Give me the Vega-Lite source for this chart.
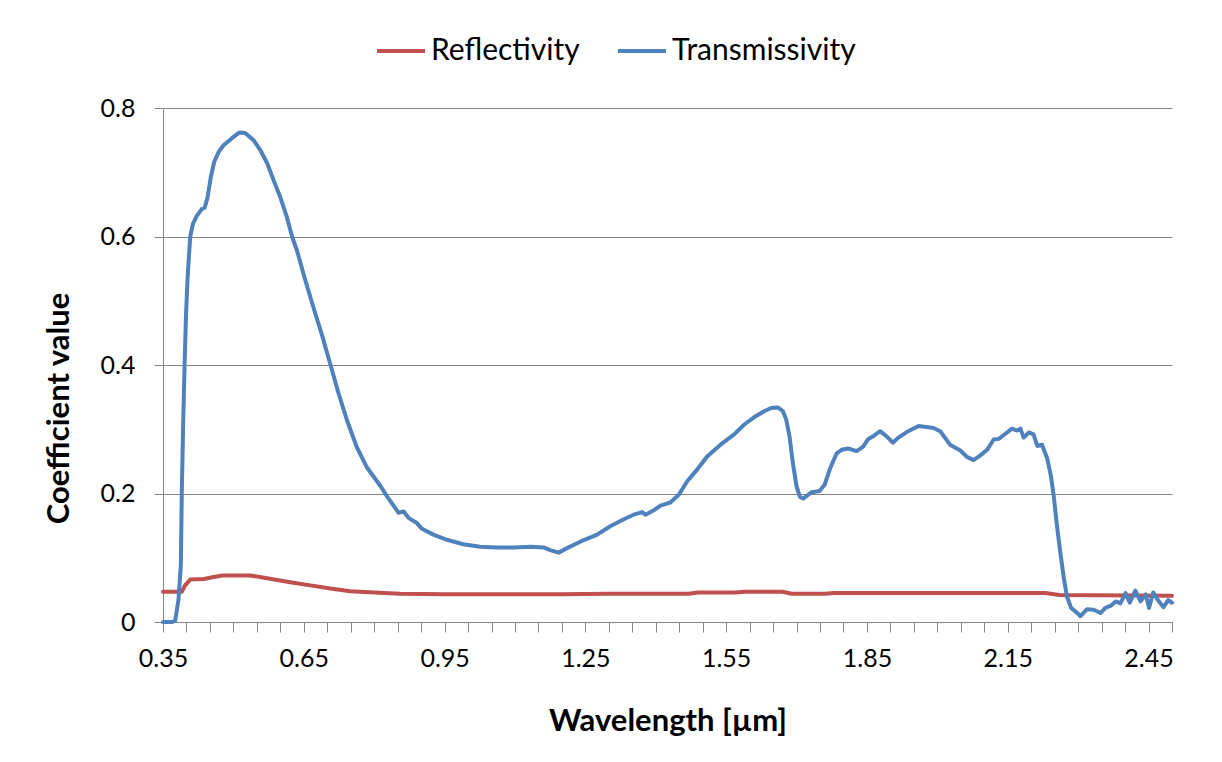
{
  "$schema": "https://vega.github.io/schema/vega-lite/v6.json",
  "autosize": "none",
  "width": 1009,
  "height": 514,
  "padding": {"left": 163, "top": 108, "right": 50, "bottom": 140},
  "background": "white",
  "config": {
    "view": {"stroke": null},
    "font": "Lato",
    "axis": {"labelFont": "Lato", "titleFont": "Lato", "labelColor": "#000000", "titleColor": "#000000", "domainColor": "#868686", "tickColor": "#868686", "gridColor": "#868686", "gridWidth": 1, "domainWidth": 1, "tickWidth": 1}
  },
  "data": {
    "values": [
      {"w": 0.35, "v": 0.047, "s": "Reflectivity"},
      {"w": 0.39, "v": 0.047, "s": "Reflectivity"},
      {"w": 0.397, "v": 0.057, "s": "Reflectivity"},
      {"w": 0.408, "v": 0.066, "s": "Reflectivity"},
      {"w": 0.437, "v": 0.067, "s": "Reflectivity"},
      {"w": 0.458, "v": 0.070, "s": "Reflectivity"},
      {"w": 0.476, "v": 0.0725, "s": "Reflectivity"},
      {"w": 0.536, "v": 0.0725, "s": "Reflectivity"},
      {"w": 0.572, "v": 0.068, "s": "Reflectivity"},
      {"w": 0.621, "v": 0.062, "s": "Reflectivity"},
      {"w": 0.664, "v": 0.057, "s": "Reflectivity"},
      {"w": 0.707, "v": 0.052, "s": "Reflectivity"},
      {"w": 0.749, "v": 0.048, "s": "Reflectivity"},
      {"w": 0.80, "v": 0.046, "s": "Reflectivity"},
      {"w": 0.856, "v": 0.044, "s": "Reflectivity"},
      {"w": 0.95, "v": 0.043, "s": "Reflectivity"},
      {"w": 1.2, "v": 0.043, "s": "Reflectivity"},
      {"w": 1.3, "v": 0.044, "s": "Reflectivity"},
      {"w": 1.47, "v": 0.044, "s": "Reflectivity"},
      {"w": 1.49, "v": 0.046, "s": "Reflectivity"},
      {"w": 1.57, "v": 0.046, "s": "Reflectivity"},
      {"w": 1.59, "v": 0.047, "s": "Reflectivity"},
      {"w": 1.67, "v": 0.047, "s": "Reflectivity"},
      {"w": 1.69, "v": 0.044, "s": "Reflectivity"},
      {"w": 1.76, "v": 0.044, "s": "Reflectivity"},
      {"w": 1.78, "v": 0.045, "s": "Reflectivity"},
      {"w": 2.0, "v": 0.045, "s": "Reflectivity"},
      {"w": 2.23, "v": 0.045, "s": "Reflectivity"},
      {"w": 2.26, "v": 0.042, "s": "Reflectivity"},
      {"w": 2.5, "v": 0.041, "s": "Reflectivity"},
      {"w": 0.350, "v": 0.000, "s": "Transmissivity"},
      {"w": 0.370, "v": 0.000, "s": "Transmissivity"},
      {"w": 0.376, "v": 0.002, "s": "Transmissivity"},
      {"w": 0.383, "v": 0.035, "s": "Transmissivity"},
      {"w": 0.388, "v": 0.088, "s": "Transmissivity"},
      {"w": 0.390, "v": 0.200, "s": "Transmissivity"},
      {"w": 0.393, "v": 0.310, "s": "Transmissivity"},
      {"w": 0.396, "v": 0.400, "s": "Transmissivity"},
      {"w": 0.399, "v": 0.477, "s": "Transmissivity"},
      {"w": 0.402, "v": 0.530, "s": "Transmissivity"},
      {"w": 0.405, "v": 0.566, "s": "Transmissivity"},
      {"w": 0.408, "v": 0.600, "s": "Transmissivity"},
      {"w": 0.414, "v": 0.620, "s": "Transmissivity"},
      {"w": 0.422, "v": 0.632, "s": "Transmissivity"},
      {"w": 0.433, "v": 0.643, "s": "Transmissivity"},
      {"w": 0.439, "v": 0.645, "s": "Transmissivity"},
      {"w": 0.445, "v": 0.661, "s": "Transmissivity"},
      {"w": 0.452, "v": 0.693, "s": "Transmissivity"},
      {"w": 0.459, "v": 0.716, "s": "Transmissivity"},
      {"w": 0.469, "v": 0.732, "s": "Transmissivity"},
      {"w": 0.479, "v": 0.742, "s": "Transmissivity"},
      {"w": 0.497, "v": 0.753, "s": "Transmissivity"},
      {"w": 0.513, "v": 0.762, "s": "Transmissivity"},
      {"w": 0.525, "v": 0.761, "s": "Transmissivity"},
      {"w": 0.543, "v": 0.750, "s": "Transmissivity"},
      {"w": 0.557, "v": 0.735, "s": "Transmissivity"},
      {"w": 0.572, "v": 0.714, "s": "Transmissivity"},
      {"w": 0.586, "v": 0.687, "s": "Transmissivity"},
      {"w": 0.600, "v": 0.661, "s": "Transmissivity"},
      {"w": 0.614, "v": 0.630, "s": "Transmissivity"},
      {"w": 0.625, "v": 0.600, "s": "Transmissivity"},
      {"w": 0.636, "v": 0.577, "s": "Transmissivity"},
      {"w": 0.650, "v": 0.540, "s": "Transmissivity"},
      {"w": 0.667, "v": 0.498, "s": "Transmissivity"},
      {"w": 0.689, "v": 0.446, "s": "Transmissivity"},
      {"w": 0.707, "v": 0.400, "s": "Transmissivity"},
      {"w": 0.724, "v": 0.356, "s": "Transmissivity"},
      {"w": 0.742, "v": 0.314, "s": "Transmissivity"},
      {"w": 0.763, "v": 0.272, "s": "Transmissivity"},
      {"w": 0.785, "v": 0.240, "s": "Transmissivity"},
      {"w": 0.813, "v": 0.212, "s": "Transmissivity"},
      {"w": 0.827, "v": 0.196, "s": "Transmissivity"},
      {"w": 0.852, "v": 0.170, "s": "Transmissivity"},
      {"w": 0.863, "v": 0.172, "s": "Transmissivity"},
      {"w": 0.873, "v": 0.162, "s": "Transmissivity"},
      {"w": 0.891, "v": 0.154, "s": "Transmissivity"},
      {"w": 0.902, "v": 0.145, "s": "Transmissivity"},
      {"w": 0.926, "v": 0.136, "s": "Transmissivity"},
      {"w": 0.955, "v": 0.128, "s": "Transmissivity"},
      {"w": 0.990, "v": 0.121, "s": "Transmissivity"},
      {"w": 1.026, "v": 0.117, "s": "Transmissivity"},
      {"w": 1.062, "v": 0.116, "s": "Transmissivity"},
      {"w": 1.097, "v": 0.116, "s": "Transmissivity"},
      {"w": 1.133, "v": 0.117, "s": "Transmissivity"},
      {"w": 1.161, "v": 0.116, "s": "Transmissivity"},
      {"w": 1.175, "v": 0.112, "s": "Transmissivity"},
      {"w": 1.193, "v": 0.108, "s": "Transmissivity"},
      {"w": 1.211, "v": 0.115, "s": "Transmissivity"},
      {"w": 1.239, "v": 0.125, "s": "Transmissivity"},
      {"w": 1.275, "v": 0.136, "s": "Transmissivity"},
      {"w": 1.303, "v": 0.149, "s": "Transmissivity"},
      {"w": 1.332, "v": 0.160, "s": "Transmissivity"},
      {"w": 1.353, "v": 0.167, "s": "Transmissivity"},
      {"w": 1.371, "v": 0.171, "s": "Transmissivity"},
      {"w": 1.378, "v": 0.167, "s": "Transmissivity"},
      {"w": 1.396, "v": 0.174, "s": "Transmissivity"},
      {"w": 1.410, "v": 0.181, "s": "Transmissivity"},
      {"w": 1.431, "v": 0.186, "s": "Transmissivity"},
      {"w": 1.449, "v": 0.198, "s": "Transmissivity"},
      {"w": 1.467, "v": 0.219, "s": "Transmissivity"},
      {"w": 1.489, "v": 0.238, "s": "Transmissivity"},
      {"w": 1.510, "v": 0.258, "s": "Transmissivity"},
      {"w": 1.538, "v": 0.276, "s": "Transmissivity"},
      {"w": 1.567, "v": 0.292, "s": "Transmissivity"},
      {"w": 1.588, "v": 0.307, "s": "Transmissivity"},
      {"w": 1.610, "v": 0.319, "s": "Transmissivity"},
      {"w": 1.631, "v": 0.328, "s": "Transmissivity"},
      {"w": 1.646, "v": 0.333, "s": "Transmissivity"},
      {"w": 1.660, "v": 0.334, "s": "Transmissivity"},
      {"w": 1.671, "v": 0.328, "s": "Transmissivity"},
      {"w": 1.678, "v": 0.315, "s": "Transmissivity"},
      {"w": 1.685, "v": 0.289, "s": "Transmissivity"},
      {"w": 1.692, "v": 0.248, "s": "Transmissivity"},
      {"w": 1.700, "v": 0.211, "s": "Transmissivity"},
      {"w": 1.707, "v": 0.195, "s": "Transmissivity"},
      {"w": 1.714, "v": 0.192, "s": "Transmissivity"},
      {"w": 1.732, "v": 0.202, "s": "Transmissivity"},
      {"w": 1.749, "v": 0.204, "s": "Transmissivity"},
      {"w": 1.760, "v": 0.214, "s": "Transmissivity"},
      {"w": 1.771, "v": 0.238, "s": "Transmissivity"},
      {"w": 1.785, "v": 0.262, "s": "Transmissivity"},
      {"w": 1.796, "v": 0.268, "s": "Transmissivity"},
      {"w": 1.810, "v": 0.270, "s": "Transmissivity"},
      {"w": 1.828, "v": 0.266, "s": "Transmissivity"},
      {"w": 1.842, "v": 0.273, "s": "Transmissivity"},
      {"w": 1.853, "v": 0.285, "s": "Transmissivity"},
      {"w": 1.863, "v": 0.289, "s": "Transmissivity"},
      {"w": 1.878, "v": 0.297, "s": "Transmissivity"},
      {"w": 1.892, "v": 0.289, "s": "Transmissivity"},
      {"w": 1.905, "v": 0.279, "s": "Transmissivity"},
      {"w": 1.917, "v": 0.287, "s": "Transmissivity"},
      {"w": 1.938, "v": 0.297, "s": "Transmissivity"},
      {"w": 1.960, "v": 0.305, "s": "Transmissivity"},
      {"w": 1.992, "v": 0.302, "s": "Transmissivity"},
      {"w": 2.006, "v": 0.297, "s": "Transmissivity"},
      {"w": 2.027, "v": 0.276, "s": "Transmissivity"},
      {"w": 2.049, "v": 0.267, "s": "Transmissivity"},
      {"w": 2.063, "v": 0.257, "s": "Transmissivity"},
      {"w": 2.077, "v": 0.252, "s": "Transmissivity"},
      {"w": 2.091, "v": 0.259, "s": "Transmissivity"},
      {"w": 2.106, "v": 0.268, "s": "Transmissivity"},
      {"w": 2.120, "v": 0.284, "s": "Transmissivity"},
      {"w": 2.131, "v": 0.285, "s": "Transmissivity"},
      {"w": 2.145, "v": 0.293, "s": "Transmissivity"},
      {"w": 2.159, "v": 0.301, "s": "Transmissivity"},
      {"w": 2.170, "v": 0.298, "s": "Transmissivity"},
      {"w": 2.177, "v": 0.301, "s": "Transmissivity"},
      {"w": 2.184, "v": 0.287, "s": "Transmissivity"},
      {"w": 2.195, "v": 0.295, "s": "Transmissivity"},
      {"w": 2.205, "v": 0.292, "s": "Transmissivity"},
      {"w": 2.213, "v": 0.274, "s": "Transmissivity"},
      {"w": 2.223, "v": 0.276, "s": "Transmissivity"},
      {"w": 2.234, "v": 0.255, "s": "Transmissivity"},
      {"w": 2.242, "v": 0.227, "s": "Transmissivity"},
      {"w": 2.248, "v": 0.196, "s": "Transmissivity"},
      {"w": 2.255, "v": 0.149, "s": "Transmissivity"},
      {"w": 2.262, "v": 0.108, "s": "Transmissivity"},
      {"w": 2.269, "v": 0.071, "s": "Transmissivity"},
      {"w": 2.276, "v": 0.040, "s": "Transmissivity"},
      {"w": 2.285, "v": 0.022, "s": "Transmissivity"},
      {"w": 2.298, "v": 0.014, "s": "Transmissivity"},
      {"w": 2.305, "v": 0.009, "s": "Transmissivity"},
      {"w": 2.319, "v": 0.020, "s": "Transmissivity"},
      {"w": 2.333, "v": 0.019, "s": "Transmissivity"},
      {"w": 2.348, "v": 0.014, "s": "Transmissivity"},
      {"w": 2.358, "v": 0.022, "s": "Transmissivity"},
      {"w": 2.369, "v": 0.025, "s": "Transmissivity"},
      {"w": 2.380, "v": 0.032, "s": "Transmissivity"},
      {"w": 2.390, "v": 0.029, "s": "Transmissivity"},
      {"w": 2.401, "v": 0.045, "s": "Transmissivity"},
      {"w": 2.410, "v": 0.030, "s": "Transmissivity"},
      {"w": 2.422, "v": 0.049, "s": "Transmissivity"},
      {"w": 2.433, "v": 0.032, "s": "Transmissivity"},
      {"w": 2.444, "v": 0.043, "s": "Transmissivity"},
      {"w": 2.451, "v": 0.022, "s": "Transmissivity"},
      {"w": 2.460, "v": 0.046, "s": "Transmissivity"},
      {"w": 2.469, "v": 0.035, "s": "Transmissivity"},
      {"w": 2.482, "v": 0.023, "s": "Transmissivity"},
      {"w": 2.492, "v": 0.034, "s": "Transmissivity"},
      {"w": 2.500, "v": 0.030, "s": "Transmissivity"}
    ]
  },
  "mark": {"type": "line", "strokeWidth": 4, "strokeCap": "round", "strokeJoin": "round"},
  "encoding": {
    "x": {
      "field": "w", "type": "quantitative",
      "scale": {"domain": [0.35, 2.5], "nice": false, "zero": false},
      "axis": {
        "title": "Wavelength [µm]",
        "values": [0.35,0.4,0.45,0.5,0.55,0.6,0.65,0.7,0.75,0.8,0.85,0.9,0.95,1,1.05,1.1,1.15,1.2,1.25,1.3,1.35,1.4,1.45,1.5,1.55,1.6,1.65,1.7,1.75,1.8,1.85,1.9,1.95,2,2.05,2.1,2.15,2.2,2.25,2.3,2.35,2.4,2.45,2.5],
        "labelExpr": "abs((datum.value - 0.35) / 0.3 - round((datum.value - 0.35) / 0.3)) < 0.01 && datum.value < 2.48 ? format(datum.value, '.2f') : ''",
        "labelOverlap": false,
        "labelFlush": false,
        "labelBound": false,
        "grid": false,
        "tickSize": 10,
        "labelFontSize": 25,
        "labelPadding": 14,
        "titleFontSize": 31,
        "titleFontWeight": "bold",
        "titleBaseline": "alphabetic",
        "titleY": 108
      }
    },
    "y": {
      "field": "v", "type": "quantitative",
      "scale": {"domain": [0, 0.8], "nice": false},
      "axis": {
        "title": "Coefficient value",
        "values": [0, 0.2, 0.4, 0.6, 0.8],
        "labelExpr": "datum.value == 0 ? '0' : format(datum.value, '.1f')",
        "grid": true,
        "tickSize": 9,
        "labelFontSize": 25,
        "labelPadding": 19,
        "titleFontSize": 31,
        "titleFontWeight": "bold",
        "titleBaseline": "alphabetic",
        "titleAngle": -90,
        "titleAlign": "center",
        "titleX": -95,
        "titleY": 300
      }
    },
    "color": {
      "field": "s", "type": "nominal",
      "scale": {"domain": ["Reflectivity", "Transmissivity"], "range": ["#C0504D", "#4F81BD"]},
      "legend": {
        "title": null,
        "orient": "none",
        "direction": "horizontal",
        "legendX": 212,
        "legendY": -83,
        "symbolType": "stroke",
        "symbolSize": 2304,
        "symbolStrokeWidth": 4,
        "labelFontSize": 30,
        "labelFont": "Lato",
        "labelColor": "#000000",
        "labelOffset": 4,
        "columnPadding": 30,
        "labelLimit": 400
      }
    }
  }
}
